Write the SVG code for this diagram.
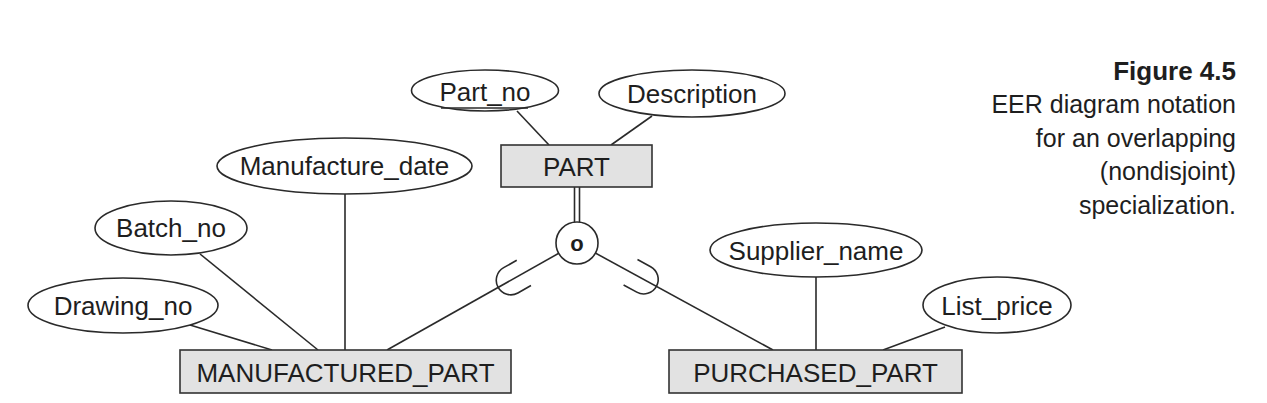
<svg xmlns="http://www.w3.org/2000/svg" width="1267" height="403" viewBox="0 0 1267 403">
<style>
.ln{stroke:#2a2a2a;stroke-width:1.6;fill:none}
.el{fill:#fff;stroke:#2a2a2a;stroke-width:1.6}
.bx{fill:#e2e2e2;stroke:#333;stroke-width:1.6}
.t{font-family:"Liberation Sans",Arial,sans-serif;font-size:26px;fill:#1e1e1e;text-anchor:middle}
.cap{font-family:"Liberation Sans",Arial,sans-serif;font-size:25px;fill:#1e1e1e;text-anchor:end}
</style>
<rect width="1267" height="403" fill="#fff"/>
<g id="connectors">
<line class="ln" x1="517" y1="111" x2="549" y2="145"/>
<line class="ln" x1="652" y1="116" x2="611" y2="145"/>
<line class="ln" x1="345" y1="194" x2="345" y2="350"/>
<line class="ln" x1="200" y1="254" x2="318" y2="350"/>
<line class="ln" x1="190" y1="325" x2="272" y2="350"/>
<line class="ln" x1="816" y1="277" x2="816" y2="350"/>
<line class="ln" x1="945" y1="327" x2="883" y2="350"/>
<line class="ln" x1="574.5" y1="187" x2="574.5" y2="223"/>
<line class="ln" x1="579.5" y1="187" x2="579.5" y2="223"/>
<line class="ln" x1="577" y1="243" x2="387" y2="350"/>
<line class="ln" x1="577" y1="243" x2="773" y2="350"/>
<path class="ln" transform="translate(577,243) rotate(150.61)" d="M61,-14.5 H76 A14.5,14.5 0 0 1 76,14.5 H61"/>
<path class="ln" transform="translate(577,243) rotate(28.63)" d="M61,-14.5 H76 A14.5,14.5 0 0 1 76,14.5 H61"/>
</g>
<g id="part">
<rect class="bx" x="501" y="145" width="151" height="42"/>
<text class="t" x="576.5" y="175.5">PART</text>
</g>
<g id="part_no">
<ellipse class="el" cx="485" cy="90.5" rx="73.5" ry="20.5"/>
<text class="t" x="485" y="100.5">Part_no</text>
<line class="ln" x1="441" y1="108" x2="528" y2="108"/>
</g>
<g id="description">
<ellipse class="el" cx="692" cy="93.5" rx="93" ry="23.5"/>
<text class="t" x="692" y="102.5">Description</text>
</g>
<g id="overlap">
<circle class="el" cx="577" cy="243" r="21"/>
<text x="577" y="251" style="font-family:'Liberation Sans',Arial,sans-serif;font-size:22px;font-weight:bold;fill:#1e1e1e;text-anchor:middle">o</text>
</g>
<g id="manufacture_date">
<ellipse class="el" cx="344.5" cy="166" rx="127.5" ry="28"/>
<text class="t" x="344.5" y="175">Manufacture_date</text>
</g>
<g id="batch_no">
<ellipse class="el" cx="171" cy="228" rx="76" ry="27"/>
<text class="t" x="171" y="237">Batch_no</text>
</g>
<g id="drawing_no">
<ellipse class="el" cx="123" cy="305.5" rx="95" ry="27.5"/>
<text class="t" x="123" y="315">Drawing_no</text>
</g>
<g id="manufactured_part">
<rect class="bx" x="180" y="350" width="331" height="43"/>
<text class="t" x="345.5" y="382">MANUFACTURED_PART</text>
</g>
<g id="supplier_name">
<ellipse class="el" cx="816" cy="250" rx="106" ry="27"/>
<text class="t" x="816" y="259.5">Supplier_name</text>
</g>
<g id="list_price">
<ellipse class="el" cx="997" cy="305" rx="74" ry="28"/>
<text class="t" x="997" y="314.5">List_price</text>
</g>
<g id="purchased_part">
<rect class="bx" x="669" y="350" width="293" height="43"/>
<text class="t" x="815.5" y="382">PURCHASED_PART</text>
</g>
<g id="caption">
<text class="cap" x="1236" y="79.5" style="font-weight:bold;font-size:26px">Figure 4.5</text>
<text class="cap" x="1236" y="113">EER diagram notation</text>
<text class="cap" x="1236" y="146.5">for an overlapping</text>
<text class="cap" x="1236" y="180">(nondisjoint)</text>
<text class="cap" x="1236" y="213.5">specialization.</text>
</g>
</svg>
